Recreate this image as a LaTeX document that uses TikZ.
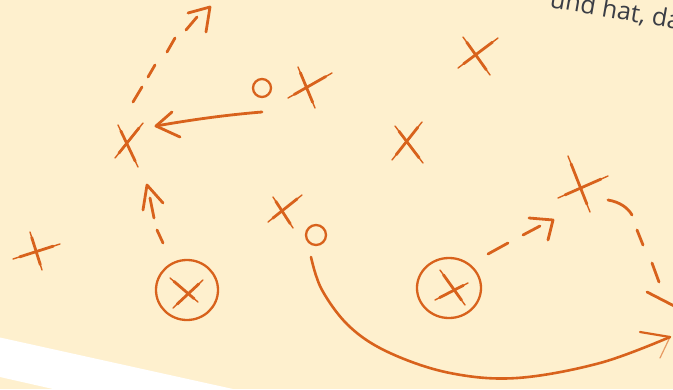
\documentclass[tikz,border=0pt]{standalone}
\usepackage{fontspec}
\usetikzlibrary{calc}
\newfontfamily\captionfont{Open Sans}
\definecolor{cream}{HTML}{FEF0CE}
\definecolor{chalk}{HTML}{D8621C}
\definecolor{ink}{HTML}{3A3D45}
\newcommand\brush[2]{%
  \draw[thinstroke] #1 -- #2;
  \draw[stroke] ($#1!0.14!#2$) -- ($#1!0.86!#2$);}
\begin{document}
\begin{tikzpicture}[x=1pt,y=-1pt,
  stroke/.style={draw=chalk,line width=2.8pt,line cap=round,line join=round},
  thinstroke/.style={draw=chalk,line width=1.4pt,line cap=round},
  ring/.style={draw=chalk,line width=2.3pt},
  faint/.style={draw=chalk,line width=1.2pt,line cap=round,opacity=0.6}]
\useasboundingbox (0,0) rectangle (673,389);
\clip (0,0) rectangle (673,389);
\fill[cream] (0,0) rectangle (673,389);
\fill[white] (0,337.5) -- (233,389) -- (53,389) -- (0,377) -- cycle;
\node[anchor=base west,rotate=-10,inner sep=0,text=ink,
  font=\captionfont\fontsize{25}{25}\selectfont] (txt) at (549,7) {und hat, da};
% X left centre
\brush{(115,158)}{(143,123)}
\brush{(118,125)}{(138,167)}
% dashed arrow up
\draw[stroke] (133,102) -- (142,87);
\draw[stroke] (148,77) -- (155,65);
\draw[stroke] (167,52) -- (175,38);
\draw[stroke] (186,30) -- (197,17);
\draw[stroke] (188,13) -- (210,7) -- (206,32);
% solid arrow
\draw[stroke] (262,112) .. controls (225,115) and (190,120) .. (156,126);
\draw[stroke] (172,112) -- (156,126) -- (180,137);
% small circle
\draw[ring] (262,88) circle[radius=9];
% X right of circle
\brush{(288,98)}{(332,73)}
\brush{(298,67)}{(315,108)}
% X top right
\brush{(458,68)}{(498,38)}
\brush{(463,37)}{(490,75)}
% X middle
\brush{(392,160)}{(422,122)}
\brush{(395,126)}{(423,163)}
% X far left
\brush{(13,259)}{(60,244)}
\brush{(30,232)}{(42,270)}
% dashed arrow from circled X
\draw[stroke] (163,243) -- (157,230);
\draw[stroke] (154,218) -- (150,198);
\draw[stroke] (143,210) -- (147,185) -- (163,203);
% circled X left
\draw[ring] (187,290) circle[x radius=31,y radius=30];
\brush{(173,308)}{(203,280)}
\brush{(170,278)}{(198,302)}
% X centre
\brush{(268,222)}{(302,195)}
\brush{(273,197)}{(293,228)}
% small circle centre
\draw[ring] (316,235) circle[radius=10];
% long curve
\draw[stroke,line width=2.6pt] plot[smooth,tension=0.6] coordinates {(311,257) (322,290) (350,327) (390,353) (450,373) (517,378) (600,363) (670,337)};
\draw[stroke,line width=2.2pt] (640,332) -- (670,337);
\draw[faint] (670,337) -- (660,358);
% circled X right
\draw[ring] (449,288) circle[x radius=32,y radius=30];
\brush{(435,300)}{(468,283)}
\brush{(440,270)}{(465,305)}
% dashed arrow to X
\draw[stroke] (488,254) -- (508,243);
\draw[stroke] (523,235) -- (540,226);
\draw[stroke] (529,218) -- (553,220) -- (548,240);
% X right
\brush{(558,198)}{(608,176)}
\brush{(568,156)}{(590,212)}
% dashed curve right
\draw[stroke] (608,200) .. controls (620,202) and (628,208) .. (632,215);
\draw[stroke] (637,230) -- (643,245);
\draw[stroke] (652,263) -- (659,282);
\draw[stroke] (647,292) -- (680,309);
\end{tikzpicture}
\end{document}
